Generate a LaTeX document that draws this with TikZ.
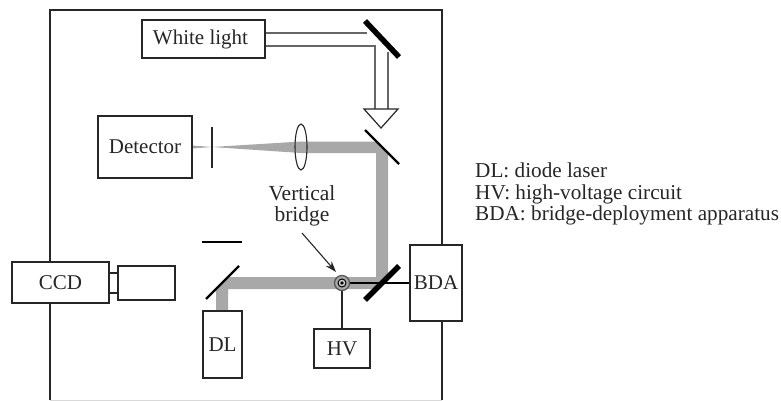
\documentclass[tikz,border=0pt]{standalone}
\usepackage{fontspec}
\setmainfont{Liberation Serif}
\usetikzlibrary{arrows.meta,calc}
\definecolor{beam}{gray}{0.66}
\definecolor{ink}{gray}{0.15}
\tikzset{
  x=1pt,y=-1pt,
  box/.style={draw=ink,line width=1.3pt,fill=white,inner sep=0pt,text=ink,font=\fontsize{21}{21}\selectfont},
  lbl/.style={inner sep=0pt,text=ink,font=\fontsize{21.2}{21.5}\selectfont},
  wire/.style={draw=ink,line width=1.1pt},
  dbl/.style={draw=black!60,line width=1.4pt},
  mirthin/.style={draw=black,line width=2.4pt},
  mirthick/.style={draw=black,line width=5.5pt},
  gbeam/.style={fill=beam,draw=none}
}
\begin{document}
\begin{tikzpicture}
\useasboundingbox (0,0) rectangle (781,401);
% frame
\coordinate (fTL) at (50,10);\coordinate (fTR) at (442,10);
\coordinate (fBR) at (442,400);\coordinate (fBL) at (50,400);
\draw[draw=black!15,line width=.8pt] (fBL) -- (fBR);
\draw[wire] (fBL) -- (fTL) -- (fTR) -- (fBR);
% beams
\fill[gbeam] (212,147) -- (301,141.5) -- (376,141.5) -- (388,153.5) -- (388,277) -- (376,289) -- (228,289) -- (228,311) -- (216,311) -- (216,289) -- (228,277) -- (376,277) -- (376,153) -- (301,153) -- cycle;
\fill[gbeam] (192,145.5) -- (212,147) -- (192,148.5) -- cycle;
% boxes
\node[box,minimum width=123pt,minimum height=38pt] (white) at (203.5,39) {\hspace{-6pt}White light};
\node[box,minimum width=94pt,minimum height=62pt] (det) at (145,147) {Detector};
\node[box,minimum width=97pt,minimum height=41pt] (ccd) at (60.5,282.5) {CCD};
\node[box,minimum width=9pt,minimum height=20pt] (coup) at (113.5,283) {};
\node[box,minimum width=57pt,minimum height=34pt] (cam) at (146.5,283) {};
\node[box,minimum width=39pt,minimum height=67pt] (dl) at (222.5,344.5) {DL};
\node[box,minimum width=56pt,minimum height=39pt] (hv) at (342,348.5) {HV};
\node[box,minimum width=52pt,minimum height=76pt] (bda) at (436,283) {BDA};
% white light optics
\coordinate (m1a) at (365,21);\coordinate (m1b) at (399,57);
\coordinate (t1) at (364,109);\coordinate (t2) at (398,109);\coordinate (t3) at (381,128);
\draw[dbl] (white.east |- 0,33) -- (367,33);
\draw[dbl] (white.east |- 0,46) -- (375,46) -- (375,109);
\draw[dbl] (388,52) -- (388,109);
\draw[mirthick] (m1a) -- (m1b);
\draw[draw=ink,line width=1.2pt,fill=white] (t1) -- (t2) -- (t3) -- cycle;
% mirrors
\coordinate (m2a) at (365,130);\coordinate (m2b) at (399,164);
\draw[mirthin] (m2a) -- (m2b);
\coordinate (m3a) at (365,300);\coordinate (m3b) at (399,266);
\coordinate (m4a) at (206,299);\coordinate (m4b) at (239,266);
\draw[mirthin] (m4a) -- (m4b);
\coordinate (stopa) at (202,242);\coordinate (stopb) at (242,242);
\draw[draw=black,line width=1.8pt] (stopa) -- (stopb);
% pinhole + lens
\coordinate (pa) at (212,127);\coordinate (pb) at (212,168);
\draw[wire] (pa) -- (pb);
\draw[draw=ink,line width=1.1pt] (301,147) ellipse (6 and 23);
% bridge
\coordinate (br) at (342,283);
\draw[draw=black,line width=2pt] (br) -- (bda.west);
\draw[wire] (br) -- (hv.north);
\draw[mirthick] (m3a) -- (m3b);
\draw[draw=black!65,line width=1.3pt,fill=beam] (br) circle (7.5);
\draw[draw=black,line width=1pt,fill=beam!50] (br) circle (4);
\fill[black] (br) circle (1.8);
% labels
\node[lbl,align=center,font=\fontsize{21.5}{21}\selectfont] (vb) at (302,206) {Vertical\\bridge};
\coordinate (arrS) at (302,233);\coordinate (arrE) at (336,272);
\draw[draw=ink,line width=1.1pt,-{Stealth[length=11pt,width=7.5pt]}] (arrS) -- (arrE);
\node[lbl,anchor=west,align=left] (legend) at (475,194) {DL: diode laser\\HV: high-voltage circuit\\BDA: bridge-deployment apparatus};
\end{tikzpicture}
\end{document}
